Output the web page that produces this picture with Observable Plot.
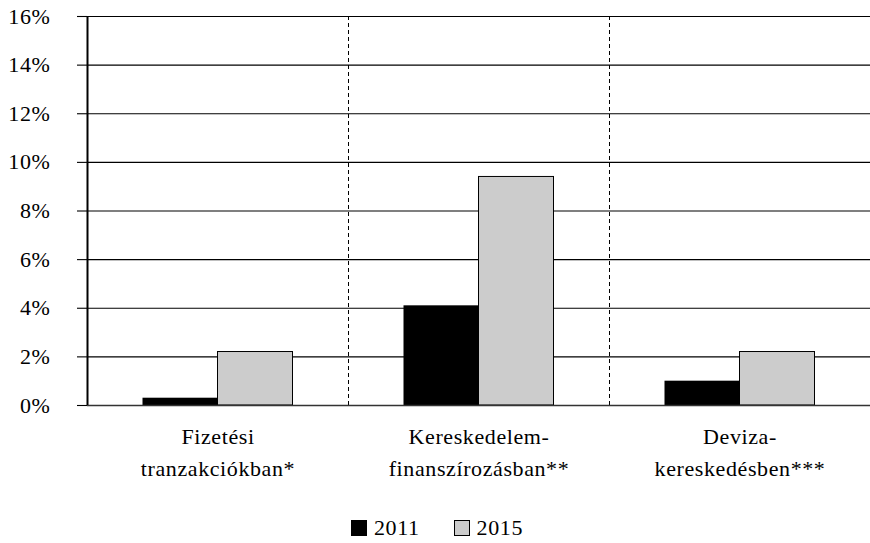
<!DOCTYPE html>
<html>
<head>
<meta charset="utf-8">
<script src="https://cdn.jsdelivr.net/npm/d3@7"></script>
<script src="https://cdn.jsdelivr.net/npm/@observablehq/plot@0.6"></script>
<style>
  body { margin: 0; background: #fff; font-family: "Liberation Serif", serif; }
  #chart { width: 870px; }
  .legend { display: flex; justify-content: center; align-items: center; gap: 34px; font-size: 22px; letter-spacing: 0.6px; line-height: 22px; margin-top: 22px; padding-left: 4px; color: #000; }
  .legend span.item { display: flex; align-items: center; gap: 7px; }
  .sw { width: 16px; height: 16px; display: inline-block; box-sizing: border-box; }
</style>
</head>
<body>
<div id="chart"></div>
<script>
const categories = ["Fizetési tranzakciókban*", "Kereskedelem-finanszírozásban**", "Deviza-kereskedésben***"];
const categoryLabels = ["Fizetési\ntranzakciókban*", "Kereskedelem-\nfinanszírozásban**", "Deviza-\nkereskedésben***"];
const years = ["2011", "2015"];
const values2011 = [0.3, 4.1, 1.0];
const values2015 = [2.2, 9.4, 2.2];
const yTicks = [0, 2, 4, 6, 8, 10, 12, 14, 16];
const colors = {"2011": "#000000", "2015": "#cccccc"};

const data2011 = categories.map((c, i) => ({cat: c, year: "2011", value: values2011[i]}));
const data2015 = categories.map((c, i) => ({cat: c, year: "2015", value: values2015[i]}));

const W = 870, ML = 87, MR = 0;
const step = (W - ML - MR) / categories.length;
const barW = 75;
const pad = (step - 2 * barW) / 2;
const labelOf = new Map(categories.map((c, i) => [c, categoryLabels[i]]));

const plot = Plot.plot({
  width: W,
  height: 495,
  marginLeft: ML,
  marginRight: MR,
  marginTop: 16,
  marginBottom: 90,
  style: {fontFamily: "Liberation Serif", fontSize: "22px", letterSpacing: "0.6px", color: "#000", background: "#fff"},
  x: {domain: categories, padding: 0, label: null},
  y: {domain: [0, 16], label: null},
  marks: [
    Plot.ruleY(yTicks.filter(d => d > 0), {stroke: "#000", strokeWidth: 1.1}),
    Plot.ruleX(categories.slice(1), {x: d => d, dx: -step / 2, stroke: "#000", strokeDasharray: "4,3", strokeWidth: 1}),
    Plot.barY(data2011, {x: "cat", y: "value", fill: colors["2011"], insetLeft: pad, insetRight: pad + barW}),
    Plot.barY(data2015, {x: "cat", y: "value", fill: colors["2015"], stroke: "#000", strokeWidth: 1, insetLeft: pad + barW, insetRight: pad}),
    Plot.ruleY([0], {stroke: "#333", strokeWidth: 1.6}),
    Plot.ruleX(categories.slice(0, 1), {x: d => d, dx: -step / 2, stroke: "#000", strokeWidth: 2}),
    Plot.axisY({ticks: yTicks, tickFormat: d => d + "%", tickSize: 10, tickPadding: 27, stroke: "#000", strokeWidth: 1.1, fontSize: 22, label: null}),
    Plot.axisX({tickFormat: d => labelOf.get(d), tickSize: 0, tickPadding: 15, lineHeight: 1.48, fontSize: 22, label: null})
  ]
});
document.getElementById("chart").appendChild(plot);

const legend = document.createElement("div");
legend.className = "legend";
for (const y of years) {
  const item = document.createElement("span");
  item.className = "item";
  const sw = document.createElement("span");
  sw.className = "sw";
  sw.style.background = colors[y];
  sw.style.border = "1px solid #000";
  item.appendChild(sw);
  item.appendChild(document.createTextNode(y));
  legend.appendChild(item);
}
document.getElementById("chart").appendChild(legend);
</script>
</body>
</html>
